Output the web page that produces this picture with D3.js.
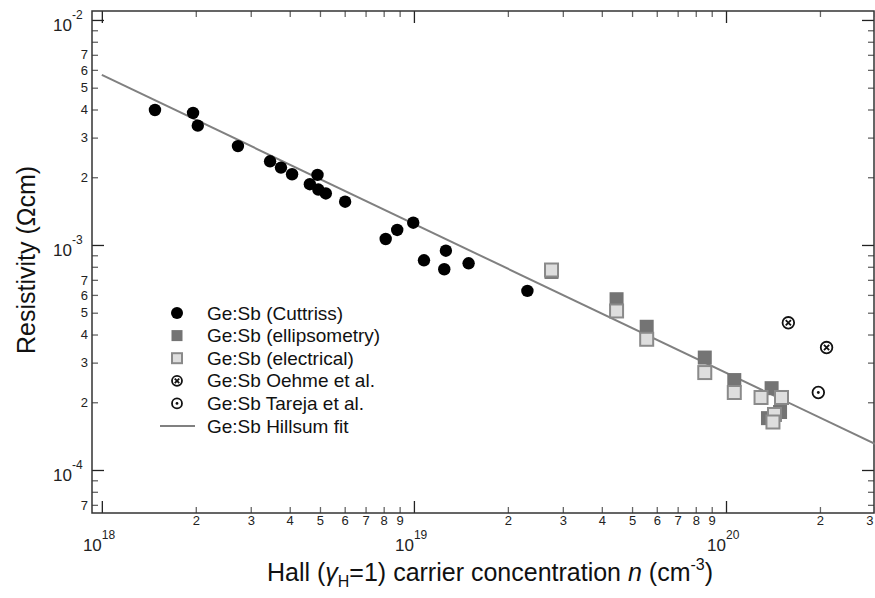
<!DOCTYPE html>
<html>
<head>
<meta charset="utf-8">
<script src="https://cdn.jsdelivr.net/npm/d3@7"></script>
<style>
  body { margin: 0; background: #fff; }
  svg { font-family: "Liberation Sans", Arial, sans-serif; }
</style>
</head>
<body>
<div id="root"></div>
<script>
// carrier concentration (cm^-3) and resistivity (Ohm cm)
const cuttrissN = [1.48e18, 1.96e18, 2.03e18, 2.73e18, 3.46e18, 3.75e18, 4.07e18, 4.91e18, 4.64e18, 4.94e18,
                   5.22e18, 6.02e18, 9.95e18, 8.84e18, 8.12e18, 1.266e19, 1.077e19, 1.251e19, 1.497e19, 2.31e19];
const cuttrissRho = [3.98e-3, 3.86e-3, 3.39e-3, 2.75e-3, 2.355e-3, 2.207e-3, 2.062e-3, 2.048e-3, 1.862e-3, 1.764e-3,
                     1.694e-3, 1.557e-3, 1.256e-3, 1.166e-3, 1.063e-3, 9.43e-4, 8.55e-4, 7.80e-4, 8.29e-4, 6.25e-4];

const ellipsN = [2.76e19, 4.46e19, 5.57e19, 8.55e19, 1.063e20, 1.40e20, 1.49e20, 1.363e20];
const ellipsRho = [7.59e-4, 5.74e-4, 4.33e-4, 3.16e-4, 2.51e-4, 2.31e-4, 1.81e-4, 1.70e-4];

const electricalN = [2.76e19, 4.46e19, 5.57e19, 8.55e19, 1.063e20, 1.295e20, 1.506e20, 1.43e20, 1.414e20];
const electricalRho = [7.74e-4, 5.09e-4, 3.81e-4, 2.71e-4, 2.21e-4, 2.10e-4, 2.10e-4, 1.765e-4, 1.634e-4];

const oehmeN = [1.584e20, 2.10e20];
const oehmeRho = [4.51e-4, 3.50e-4];

const tarejaN = [1.976e20];
const tarejaRho = [2.21e-4];

const fitN = [1e18, 3e20];
const fitRho = [5.70e-3, 1.306e-4];

const legendLabels = ["Ge:Sb (Cuttriss)", "Ge:Sb (ellipsometry)", "Ge:Sb (electrical)",
                      "Ge:Sb Oehme et al.", "Ge:Sb Tareja et al.", "Ge:Sb Hillsum fit"];

const xTickValues = [1e18, 2e18, 3e18, 4e18, 5e18, 6e18, 7e18, 8e18, 9e18,
                     1e19, 2e19, 3e19, 4e19, 5e19, 6e19, 7e19, 8e19, 9e19,
                     1e20, 2e20, 3e20];
const yTickValues = [1e-2, 9e-3, 8e-3, 7e-3, 6e-3, 5e-3, 4e-3, 3e-3, 2e-3,
                     1e-3, 9e-4, 8e-4, 7e-4, 6e-4, 5e-4, 4e-4, 3e-4, 2e-4,
                     1e-4, 9e-5, 8e-5, 7e-5];
const xMajor = [1e18, 1e19, 1e20];
const xMajorExp = ["18", "19", "20"];
const yMajor = [1e-2, 1e-3, 1e-4];
const yMajorExp = ["-2", "-3", "-4"];

const outerWidth = 875;
const outerHeight = 598;
const plot = { left: 92, right: 874, top: 11, bottom: 513 };

const x = d3.scaleLog().domain([9.3e17, 2.98e20]).range([plot.left, plot.right]);
const y = d3.scaleLog().domain([1.096e-2, 6.44e-5]).range([plot.top, plot.bottom]);

const isMajor = v => Math.abs(Math.log10(v) - Math.round(Math.log10(v))) < 1e-6;
const mantissa = v => Math.round(v / Math.pow(10, Math.floor(Math.log10(v) + 1e-9)));

const svg = d3.select("#root")
  .append("svg")
  .attr("width", outerWidth)
  .attr("height", outerHeight);

svg.append("rect").attr("width", outerWidth).attr("height", outerHeight).attr("fill", "#fff");

// axes with inward ticks
function styleTicks(g, attr, minor, major) {
  g.select(".domain").remove();
  g.selectAll(".tick line")
    .attr(attr, d => isMajor(d) ? major : minor)
    .attr("stroke", d => isMajor(d) ? "#222" : "#666")
    .attr("stroke-width", 1.3);
  g.selectAll(".tick text").attr("fill", "#222").style("font-size", "13px");
}

svg.append("g")
  .attr("transform", `translate(0,${plot.bottom})`)
  .call(d3.axisBottom(x).tickValues(xTickValues).tickSize(-6).tickSizeOuter(0).tickPadding(3)
    .tickFormat(d => isMajor(d) ? "" : mantissa(d)))
  .call(g => styleTicks(g, "y2", -6, -12))
  // last label sits on the window edge, keep it inside
  .call(g => g.selectAll(".tick text").filter(d => d === 3e20).attr("text-anchor", "end").attr("dx", -2));

svg.append("g")
  .attr("transform", `translate(0,${plot.top})`)
  .call(d3.axisTop(x).tickValues(xTickValues).tickSize(-6).tickSizeOuter(0).tickFormat(""))
  .call(g => styleTicks(g, "y2", 6, 12));

svg.append("g")
  .attr("transform", `translate(${plot.left},0)`)
  .call(d3.axisLeft(y).tickValues(yTickValues).tickSize(-6).tickSizeOuter(0).tickPadding(4)
    .tickFormat(d => (isMajor(d) || mantissa(d) > 7) ? "" : mantissa(d)))
  .call(g => styleTicks(g, "x2", 6, 12));

svg.append("g")
  .attr("transform", `translate(${plot.right},0)`)
  .call(d3.axisRight(y).tickValues(yTickValues).tickSize(-6).tickSizeOuter(0).tickFormat(""))
  .call(g => styleTicks(g, "x2", -6, -12));

svg.append("rect")
  .attr("x", plot.left)
  .attr("y", plot.top)
  .attr("width", plot.right - plot.left)
  .attr("height", plot.bottom - plot.top)
  .attr("fill", "none")
  .attr("stroke", "#333")
  .attr("stroke-width", 1.5);

// decade labels with superscripts
xMajor.forEach((v, i) => {
  svg.append("text").attr("x", x(v)).attr("y", 551).attr("text-anchor", "end")
    .style("font-size", "17px").attr("fill", "#222").text("10");
  svg.append("text").attr("x", x(v)).attr("y", 539)
    .style("font-size", "12px").attr("fill", "#222").text(xMajorExp[i]);
});

yMajor.forEach((v, i) => {
  svg.append("text").attr("x", 72).attr("y", y(v) + 11).attr("text-anchor", "end")
    .style("font-size", "17px").attr("fill", "#222").text("10");
  svg.append("text").attr("x", 72).attr("y", y(v) - 1)
    .style("font-size", "12px").attr("fill", "#222").text(yMajorExp[i]);
});

// axis titles
let xt = svg.append("text")
  .attr("x", 490).attr("y", 581)
  .attr("text-anchor", "middle")
  .style("font-size", "25px")
  .attr("fill", "#111");
xt.append("tspan").text("Hall (");
xt.append("tspan").style("font-style", "italic").text("γ");
xt.append("tspan").style("font-size", "16px").attr("dy", 6).text("H");
xt.append("tspan").attr("dy", -6).text("=1) carrier concentration ");
xt.append("tspan").style("font-style", "italic").text("n");
xt.append("tspan").text(" (cm");
xt.append("tspan").style("font-size", "16px").attr("dy", -11).text("-3");
xt.append("tspan").attr("dy", 11).text(")");

svg.append("text")
  .attr("transform", "translate(35,260) rotate(-90)")
  .attr("text-anchor", "middle")
  .style("font-size", "25px")
  .attr("fill", "#111")
  .text("Resistivity (Ωcm)");

// fit line
const line = d3.line().x(d => x(d[0])).y(d => y(d[1]));
svg.append("path")
  .datum(d3.zip(fitN, fitRho))
  .attr("d", line)
  .attr("fill", "none")
  .attr("stroke", "#808080")
  .attr("stroke-width", 2);

// markers
function circleMark(g, r) {
  g.append("circle").attr("r", r).attr("fill", "#000");
}
function darkSquare(g, s) {
  g.append("rect").attr("x", -s / 2).attr("y", -s / 2).attr("width", s).attr("height", s).attr("fill", "#747474");
}
function lightSquare(g, s) {
  g.append("rect").attr("x", -s / 2).attr("y", -s / 2).attr("width", s).attr("height", s)
    .attr("fill", "#dedede").attr("stroke", "#8a8a8a").attr("stroke-width", 2);
}
function crossMark(g, r) {
  g.append("circle").attr("r", r).attr("fill", "#fff").attr("stroke", "#111").attr("stroke-width", 1.8);
  g.append("path").attr("d", `M${-r * 0.45},${-r * 0.45}L${r * 0.45},${r * 0.45}M${-r * 0.45},${r * 0.45}L${r * 0.45},${-r * 0.45}`)
    .attr("stroke", "#111").attr("stroke-width", 1.8);
}
function dotMark(g, r) {
  g.append("circle").attr("r", r).attr("fill", "#fff").attr("stroke", "#111").attr("stroke-width", 1.8);
  g.append("circle").attr("r", 1.4).attr("fill", "#111");
}

function drawSeries(ns, rhos, mark, size) {
  svg.append("g").selectAll("g")
    .data(d3.zip(ns, rhos))
    .enter().append("g")
    .attr("transform", d => `translate(${x(d[0])},${y(d[1])})`)
    .each(function () { mark(d3.select(this), size); });
}

drawSeries(cuttrissN, cuttrissRho, circleMark, 6.2);
drawSeries(ellipsN, ellipsRho, darkSquare, 14);
drawSeries(electricalN, electricalRho, lightSquare, 13);
drawSeries(oehmeN, oehmeRho, crossMark, 5.8);
drawSeries(tarejaN, tarejaRho, dotMark, 5.8);

// legend
const legendMarks = [
  g => circleMark(g, 6),
  g => darkSquare(g, 11),
  g => lightSquare(g, 10),
  g => crossMark(g, 5),
  g => dotMark(g, 5),
  g => g.append("line").attr("x1", -17).attr("x2", 18).attr("stroke", "#808080").attr("stroke-width", 2)
];

let legend = svg.append("g").attr("transform", "translate(177,313)");
legendLabels.forEach((label, i) => {
  let row = legend.append("g").attr("transform", `translate(0,${i * 22.6})`);
  legendMarks[i](row);
  row.append("text").attr("x", 30).attr("y", 6.5)
    .style("font-size", "19px").attr("fill", "#111").text(label);
});
</script>
</body>
</html>
